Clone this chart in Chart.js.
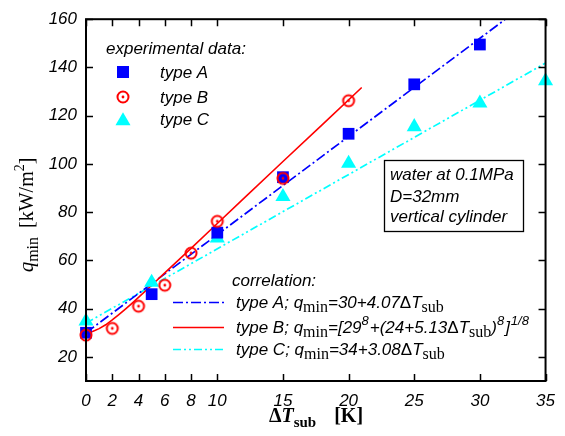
<!DOCTYPE html>
<html><head><meta charset="utf-8">
<script src="https://cdn.jsdelivr.net/npm/chart.js@4.4.1/dist/chart.umd.min.js"></script>
<style>html,body{margin:0;padding:0;background:#fff}#wrap{width:565px;height:436px}</style>
</head><body><div id="wrap"><canvas id="c" width="565" height="436"></canvas></div>
<script>
// ---- data ----
const xTicks = [0, 2, 4, 6, 8, 10, 15, 20, 25, 30, 35];
const yTicks = [20, 40, 60, 80, 100, 120, 140, 160];

const typeAX = [0, 5, 10, 15, 20, 25, 30];
const typeAY = [30, 46, 71.5, 94.5, 112.5, 133, 149.5];
const typeBX = [0, 2, 4, 6, 8, 10, 15, 20];
const typeBY = [29, 31.8, 41, 49.7, 63, 76.2, 94, 126.2];
const typeCX = [0, 5, 10, 15, 20, 25, 30, 35];
const typeCY = [34.8, 50.9, 69.2, 86.4, 100.2, 115.4, 125.2, 134.4];

const corrAX = [0, 31.9];
const corrAY = [30, 159.8];
const corrBX = [0, 0.5, 1, 1.5, 2, 2.5, 3, 3.5, 4, 5, 6, 7, 8, 10, 12, 15, 18, 21];
const corrBY = [29.7, 30.5, 31.7, 33.3, 35.3, 37.5, 39.8, 42.2, 44.7, 49.7, 54.8, 59.9, 65.0, 75.3, 85.6, 101.0, 116.3, 131.7];
const corrCX = [0, 35];
const corrCY = [34, 141.8];

const legendExpTitle = 'experimental data:';
const legendExp = ['type A', 'type B', 'type C'];
const legendCorrTitle = 'correlation:';
const infoLines = ['water at 0.1MPa', 'D=32mm', 'vertical cylinder'];

const BLUE = '#0000ff', RED = '#ff0000', CYAN = '#00ffff';
const pts = (xs, ys) => xs.map((x, i) => ({x: x, y: ys[i]}));

function circDot() {
  const c = document.createElement('canvas'); c.width = 18; c.height = 18;
  const g = c.getContext('2d');
  g.strokeStyle = RED; g.lineWidth = 2;
  g.beginPath(); g.arc(9, 9, 5.5, 0, 2 * Math.PI); g.stroke();
  g.fillStyle = RED; g.beginPath(); g.arc(9, 9, 1.4, 0, 2 * Math.PI); g.fill();
  return c;
}
const circImg = circDot();

const SI = 'italic 17px "Liberation Sans"';
const SN = '17px "Liberation Sans"';
const SUB = '16px "Liberation Serif"';
const SUP = 'italic 13px "Liberation Sans"';

function rich(ctx, x, y, segs, measureOnly) {
  let w = 0;
  for (const s of segs) {
    ctx.font = s.f;
    if (!measureOnly) ctx.fillText(s.t, x + w, y + (s.dy || 0));
    w += ctx.measureText(s.t).width + (s.sp || 0);
  }
  return w;
}

const eqA = [
  {t: 'type A; q', f: SI}, {t: 'min', f: SUB, dy: 4}, {t: '=30+4.07', f: SI},
  {t: 'Δ', f: SN}, {t: 'T', f: SI}, {t: 'sub', f: SUB, dy: 4}];
const eqB = [
  {t: 'type B; q', f: SI}, {t: 'min', f: SUB, dy: 4}, {t: '=[29', f: SI}, {t: '8', f: SUP, dy: -8, sp: 1},
  {t: '+(24+5.13', f: SI}, {t: 'Δ', f: SN}, {t: 'T', f: SI}, {t: 'sub', f: SUB, dy: 4},
  {t: ')', f: SI}, {t: '8', f: SUP, dy: -8, sp: 1}, {t: ']', f: SI, sp: 1}, {t: '1/8', f: SUP, dy: -8}];
const eqC = [
  {t: 'type C; q', f: SI}, {t: 'min', f: SUB, dy: 4}, {t: '=34+3.08', f: SI},
  {t: 'Δ', f: SN}, {t: 'T', f: SI}, {t: 'sub', f: SUB, dy: 4}];

const decor = {
  id: 'decor',
  afterDraw(chart) {
    const ctx = chart.ctx, a = chart.chartArea;
    const xs = chart.scales.x, ys = chart.scales.y;
    ctx.save();
    // frame
    ctx.strokeStyle = '#000'; ctx.lineWidth = 2;
    ctx.strokeRect(a.left, a.top, a.right - a.left, a.bottom - a.top);
    // inward ticks
    ctx.lineWidth = 1.5;
    ctx.beginPath();
    for (const v of xTicks) {
      const px = Math.round(xs.getPixelForValue(v)) + 0.5;
      ctx.moveTo(px, a.bottom); ctx.lineTo(px, a.bottom - 7);
      ctx.moveTo(px, a.top); ctx.lineTo(px, a.top + 7);
    }
    for (const v of yTicks) {
      const py = Math.round(ys.getPixelForValue(v)) + 0.5;
      ctx.moveTo(a.left, py); ctx.lineTo(a.left + 7, py);
      ctx.moveTo(a.right, py); ctx.lineTo(a.right - 7, py);
    }
    ctx.stroke();

    // experimental legend
    ctx.fillStyle = '#000'; ctx.textBaseline = 'alphabetic'; ctx.textAlign = 'left';
    ctx.font = SI;
    ctx.fillText(legendExpTitle, 106, 54);
    const rows = [72, 97, 119];
    legendExp.forEach((t, i) => { ctx.fillStyle = '#000'; ctx.font = SI; ctx.fillText(t, 160, rows[i] + 6); });
    ctx.fillStyle = BLUE; ctx.fillRect(117, 66, 12, 12);
    ctx.drawImage(circImg, 123 - 9, 97 - 9);
    ctx.fillStyle = CYAN; ctx.beginPath();
    const r = 8.7, cy = 121;
    ctx.moveTo(123, cy - r); ctx.lineTo(123 + r * 0.866, cy + r / 2); ctx.lineTo(123 - r * 0.866, cy + r / 2); ctx.closePath(); ctx.fill();

    // correlation legend
    ctx.fillStyle = '#000'; ctx.font = SI;
    ctx.fillText(legendCorrTitle, 232, 286);
    const lrows = [302, 327, 349];
    const styles = [[BLUE, [10, 3, 2, 3]], [RED, []], [CYAN, [8, 3, 2, 3, 2, 3]]];
    lrows.forEach((y, i) => {
      ctx.strokeStyle = styles[i][0]; ctx.setLineDash(styles[i][1]); ctx.lineWidth = 1.6;
      ctx.beginPath(); ctx.moveTo(173, y + 0.5); ctx.lineTo(224, y + 0.5); ctx.stroke();
    });
    ctx.setLineDash([]);
    ctx.fillStyle = '#000';
    rich(ctx, 236, 308, eqA);
    rich(ctx, 236, 333, eqB);
    rich(ctx, 236, 355, eqC);

    // info box
    ctx.strokeStyle = '#000'; ctx.lineWidth = 1.3;
    ctx.strokeRect(384.5, 160.5, 139, 71);
    ctx.font = SI;
    ctx.fillText(infoLines[0], 390, 180);
    ctx.fillText(infoLines[1], 390, 201.5);
    ctx.fillText(infoLines[2], 390, 222);

    // x title
    const xt = [
      {t: 'Δ', f: 'bold 20px "Liberation Serif"'},
      {t: 'T', f: 'italic bold 20px "Liberation Serif"'},
      {t: 'sub', f: 'bold 15px "Liberation Serif"', dy: 5, sp: 18},
      {t: '[K]', f: 'bold 20px "Liberation Serif"'}];
    const wx = rich(ctx, 0, 0, xt, true);
    rich(ctx, 316 - wx / 2, 422, xt);

    // y title (rotated)
    const yt = [
      {t: 'q', f: 'italic 21px "Liberation Serif"'},
      {t: 'min', f: '16px "Liberation Serif"', dy: 5, sp: 9},
      {t: '[kW/m', f: '20px "Liberation Serif"'},
      {t: '2', f: '14px "Liberation Serif"', dy: -9},
      {t: ']', f: '20px "Liberation Serif"'}];
    const wy = rich(ctx, 0, 0, yt, true);
    ctx.translate(33, 215); ctx.rotate(-Math.PI / 2);
    rich(ctx, -wy / 2, 0, yt);
    ctx.restore();
  }
};

const tickFont = {family: 'Liberation Sans', style: 'italic', size: 17};

new Chart(document.getElementById('c'), {
  type: 'scatter',
  data: {
    datasets: [
      {label: 'corr C', data: pts(corrCX, corrCY), showLine: true, borderColor: CYAN, borderWidth: 1.7,
       borderDash: [8, 3, 2, 3, 2, 3], pointRadius: 0, order: 10},
      {label: 'corr A', data: pts(corrAX, corrAY), showLine: true, borderColor: BLUE, borderWidth: 1.7,
       borderDash: [10, 3, 2, 3], pointRadius: 0, order: 9},
      {label: 'corr B', data: pts(corrBX, corrBY), showLine: true, borderColor: RED, borderWidth: 1.6,
       pointRadius: 0, order: 8},
      {label: 'type C', data: pts(typeCX, typeCY), pointStyle: 'triangle', pointRadius: 8.7,
       backgroundColor: CYAN, borderColor: CYAN, pointBorderWidth: 0, clip: false, order: 3},
      {label: 'type A', data: pts(typeAX, typeAY), pointStyle: 'rect', pointRadius: 8.3,
       backgroundColor: BLUE, borderColor: BLUE, pointBorderWidth: 0, clip: false, order: 2},
      {label: 'type B', data: pts(typeBX, typeBY), pointStyle: circImg, pointRadius: 7,
       backgroundColor: RED, borderColor: RED, clip: false, order: 1}
    ]
  },
  options: {
    responsive: false, animation: false, devicePixelRatio: 1,
    layout: {padding: {top: 16, right: 19, left: 0, bottom: 0}},
    plugins: {legend: {display: false}, tooltip: {enabled: false}},
    elements: {line: {tension: 0}},
    scales: {
      x: {
        type: 'linear', min: 0, max: 35,
        afterBuildTicks: s => { s.ticks = xTicks.map(v => ({value: v})); },
        afterFit: s => { s.height = 55; },
        grid: {display: false, drawTicks: false}, border: {display: false},
        ticks: {font: tickFont, color: '#000', padding: 10, maxRotation: 0, autoSkip: false}
      },
      y: {
        type: 'linear', min: 10, max: 160,
        afterBuildTicks: s => { s.ticks = yTicks.map(v => ({value: v})); },
        afterFit: s => { s.width = 86; },
        grid: {display: false, drawTicks: false}, border: {display: false},
        ticks: {font: tickFont, color: '#000', padding: 9, autoSkip: false}
      }
    }
  },
  plugins: [decor]
});
</script>
</body></html>
